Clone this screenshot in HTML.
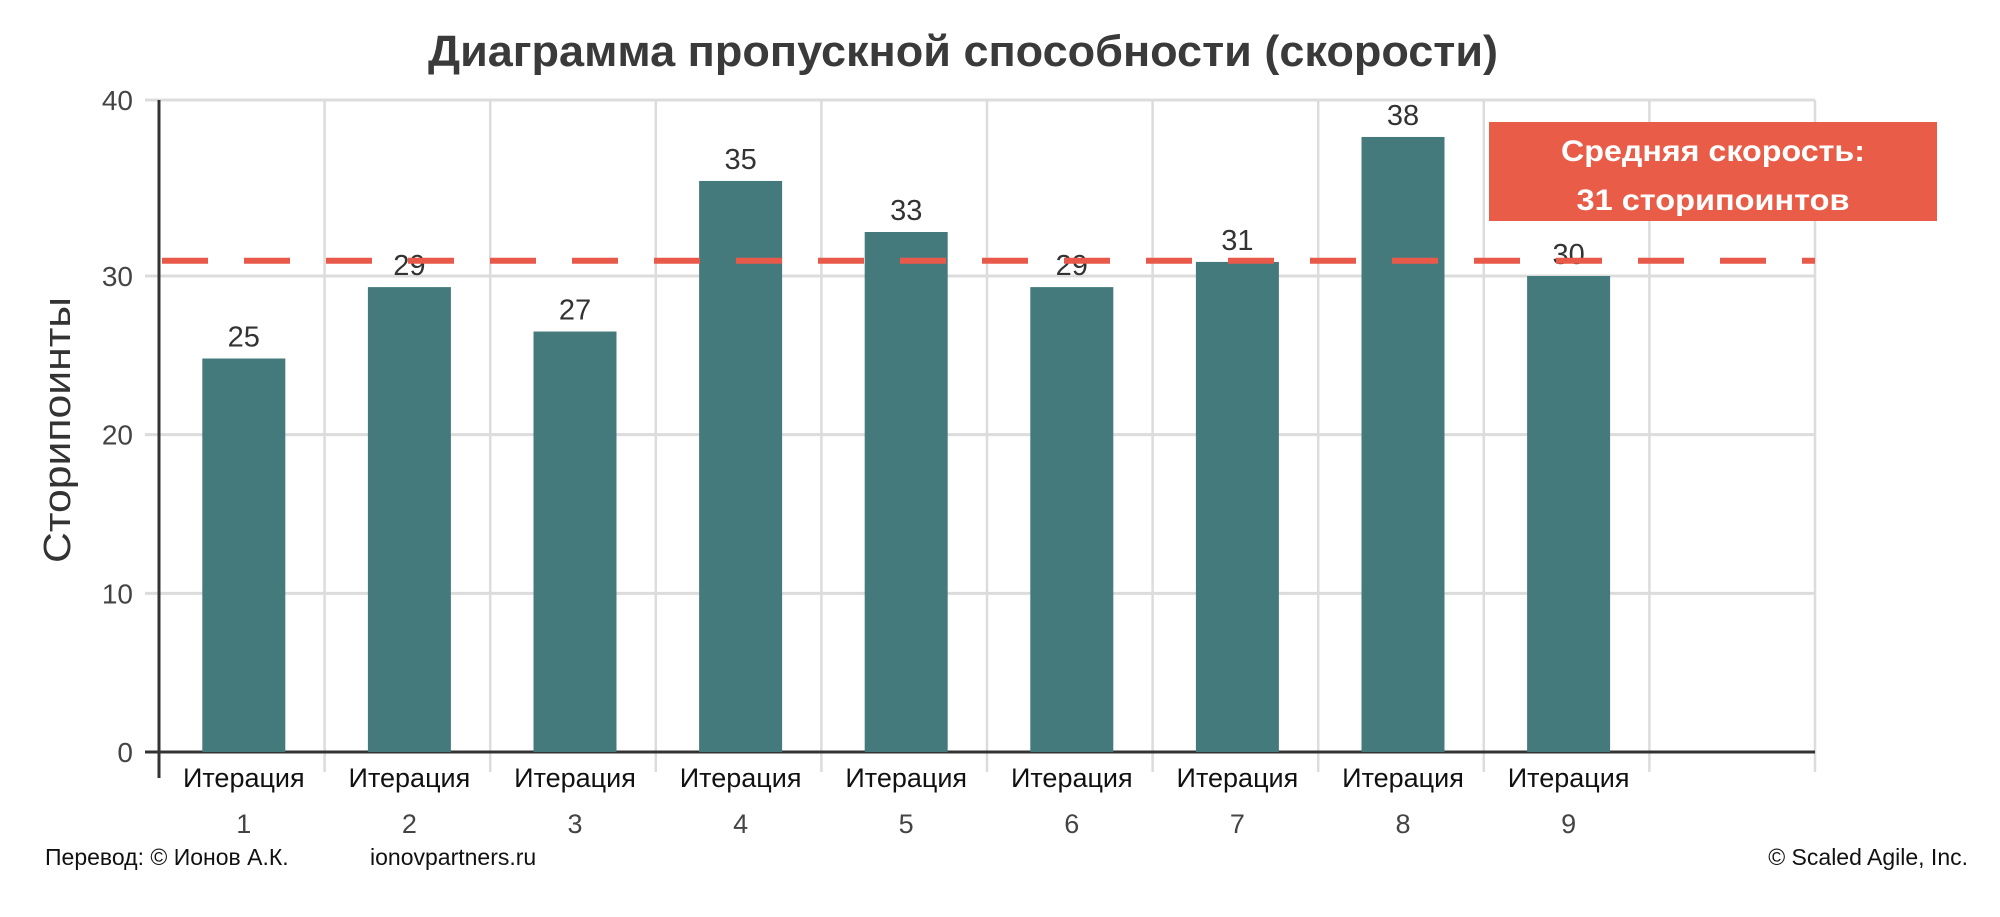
<!DOCTYPE html>
<html><head><meta charset="utf-8"><style>
html,body{margin:0;padding:0;background:#fff;}
svg{display:block;font-family:"Liberation Sans",sans-serif;}
</style></head><body>
<svg id="chart" width="2000" height="917" viewBox="0 0 2000 917" xmlns="http://www.w3.org/2000/svg">
<text x="963" y="66" text-anchor="middle" font-size="44" font-weight="bold" fill="#3a3a3a" textLength="1070" lengthAdjust="spacingAndGlyphs">Диаграмма пропускной способности (скорости)</text>
<text transform="translate(70,430) rotate(-90)" text-anchor="middle" font-size="38" fill="#333" textLength="266" lengthAdjust="spacingAndGlyphs">Сторипоинты</text>
<g id="grid"></g><g id="bars"></g><g id="labels"></g><g id="avg"></g>
<rect x="1489" y="122" width="448" height="99" fill="#e85c48"/>
<text x="1713" y="161" text-anchor="middle" font-size="30" font-weight="bold" fill="#fff" textLength="304" lengthAdjust="spacingAndGlyphs">Средняя скорость:</text>
<text x="1713" y="210" text-anchor="middle" font-size="30" font-weight="bold" fill="#fff" textLength="273" lengthAdjust="spacingAndGlyphs">31 сторипоинтов</text>
<text x="45" y="865" font-size="23" fill="#111">Перевод: © Ионов А.К.</text>
<text x="370" y="865" font-size="23" fill="#111">ionovpartners.ru</text>
<text x="1968" y="865" text-anchor="end" font-size="23" fill="#111">© Scaled Agile,  Inc.</text>
</svg>
<script>
const categories = ["1","2","3","4","5","6","7","8","9"];
const values = [24.8, 29.3, 26.5, 35.4, 32.5, 29.3, 30.8, 37.9, 30];
const valueLabels = ["25","29","27","35","33","29","31","38","30"];
const yTicks = [0, 10, 20, 30, 40];
const averageValue = 30.87;

const NS = "http://www.w3.org/2000/svg";
const plotL = 159, plotR = 1815, nBands = 10, bandW = (plotR - plotL) / nBands, barW = 83;
const yDom = [0, 30, 40], yRng = [752, 276, 100];
function y(v){
  if (v <= yDom[1]) return yRng[0] + (v - yDom[0]) * (yRng[1] - yRng[0]) / (yDom[1] - yDom[0]);
  return yRng[1] + (v - yDom[1]) * (yRng[2] - yRng[1]) / (yDom[2] - yDom[1]);
}
function xc(i){ return plotL + bandW * (i + 0.5) + 2; }
function mk(tag, attrs, parent){
  const e = document.createElementNS(NS, tag);
  for (const k in attrs) e.setAttribute(k, attrs[k]);
  parent.appendChild(e); return e;
}
const grid = document.getElementById('grid'), bars = document.getElementById('bars'), labels = document.getElementById('labels'), avg = document.getElementById('avg');

yTicks.forEach(t => {
  const gl = mk('line', {x1: 145, x2: plotR, y1: y(t), y2: y(t), stroke: '#dcdcdc', 'stroke-width': 3}, grid);
  
  
  const tl = mk('text', {x: 133, y: y(t) + 10, 'text-anchor': 'end', 'font-size': 28, fill: '#444'}, grid);
  tl.textContent = String(t);
  
  
});
for (let i = 1; i <= nBands; i++) {
  const x = plotL + bandW * i;
  const vl = mk('line', {x1: x, x2: x, y1: y(40), y2: 772, stroke: '#dcdcdc', 'stroke-width': 2.5}, grid);
  
  
}
const xa = mk('line', {x1: 145, x2: plotR, y1: y(0), y2: y(0), stroke: '#333', 'stroke-width': 3}, grid);


const ya = mk('line', {x1: plotL, x2: plotL, y1: y(40), y2: 778, stroke: '#333', 'stroke-width': 3}, grid);



values.forEach((v, i) => {
  const b = mk('rect', {x: xc(i) - barW / 2, y: y(v), width: barW, height: y(0) - y(v), fill: '#457a7c'}, bars);
  
  
  const vl = mk('text', {x: xc(i), y: y(v) - 12, 'text-anchor': 'middle', 'font-size': 29, fill: '#333'}, labels);
  vl.textContent = valueLabels[i];
  
  
  const c1 = mk('text', {x: xc(i), y: 787, 'text-anchor': 'middle', 'font-size': 27, fill: '#111'}, labels);
  c1.textContent = 'Итерация';
  
  
  const c2 = mk('text', {x: xc(i), y: 833, 'text-anchor': 'middle', 'font-size': 27, fill: '#444'}, labels);
  c2.textContent = categories[i];
  
  
});

const al = mk('line', {x1: 162, x2: plotR, y1: y(averageValue), y2: y(averageValue), stroke: '#e8594a', 'stroke-width': 6, 'stroke-dasharray': '46 36'}, avg);


</script>
</body></html>
